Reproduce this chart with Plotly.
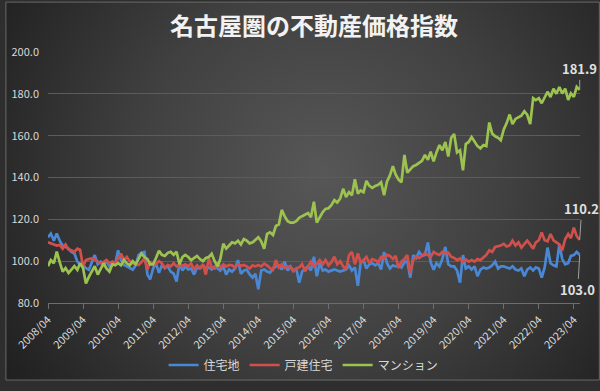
import base64
import pandas as pd
import plotly.graph_objects as go

# ---------------- data (monthly, 2008/04 .. 2023/06) ----------------
start_month = "2008-04-01"
n_months = 183

residential_land = [  # 住宅地
    111.4, 113.2, 109.8, 113.2, 109.8, 107.5, 106.8, 106.0, 104.4, 103.7, 99.8, 98.2,
    98.2, 96.7, 95.9, 99.0, 102.9, 98.5, 99.8, 98.2, 100.0, 97.5, 99.0, 98.5,
    105.2, 100.5, 98.2, 97.5, 96.5, 95.9, 98.0, 102.9, 104.0, 104.4, 93.6, 91.3,
    96.5, 99.0, 94.4, 98.0, 96.7, 97.5, 95.0, 94.0, 90.3, 99.0, 95.5, 97.5,
    96.0, 96.5, 93.6, 97.0, 96.5, 98.0, 96.5, 97.0, 96.0, 97.5, 96.5, 95.5,
    97.5, 93.6, 96.0, 95.0, 96.5, 100.5, 94.0, 95.5, 96.0, 93.6, 92.1, 94.0,
    86.6, 95.5, 96.0, 95.0, 94.5, 96.5, 97.5, 98.0, 96.0, 99.8, 95.5, 97.5,
    95.5, 96.5, 89.7, 95.0, 96.5, 97.5, 95.5, 102.1, 92.8, 99.0, 95.5, 96.0,
    95.0, 95.5, 96.0, 95.5, 95.0, 95.5, 96.0, 98.0, 95.5, 97.0, 88.2, 99.0,
    100.5, 96.5, 98.5, 99.0, 98.0, 99.0, 96.0, 104.4, 99.0, 96.5, 98.0, 97.5,
    98.0, 97.0, 99.5, 100.0, 92.1, 102.9, 101.5, 104.4, 102.5, 103.0, 109.0, 99.5,
    95.9, 99.0, 97.5, 101.0, 106.8, 98.5, 97.5, 97.5, 95.5, 89.7, 102.9, 96.5,
    97.5, 96.0, 97.5, 92.8, 96.0, 97.0, 96.5, 97.0, 98.0, 99.8, 96.5, 97.5,
    97.5, 97.0, 96.5, 97.5, 96.0, 95.5, 96.5, 92.8, 96.0, 97.0, 95.5, 97.0,
    96.5, 92.1, 97.0, 106.5, 99.0, 98.0, 97.5, 108.0, 101.0, 98.5, 99.0, 102.5,
    102.9, 104.4, 103.0,
]

detached_house = [  # 戸建住宅
    109.0, 108.5, 108.3, 107.5, 107.8, 106.0, 108.0, 105.5, 105.2, 104.4, 106.0, 105.5,
    97.5, 100.5, 101.0, 101.3, 100.8, 100.0, 99.0, 99.5, 100.5, 99.0, 99.8, 99.0,
    101.3, 103.6, 100.5, 102.0, 100.0, 99.0, 98.5, 98.2, 99.5, 101.3, 95.9, 99.8,
    98.2, 98.8, 100.0, 99.0, 96.7, 98.2, 97.5, 99.0, 97.5, 98.3, 97.8, 98.5,
    97.5, 99.0, 95.9, 98.0, 96.7, 98.5, 93.6, 101.3, 97.0, 96.5, 99.0, 97.0,
    98.5, 97.5, 98.2, 98.0, 97.0, 98.5, 97.8, 98.2, 97.5, 96.5, 98.0, 97.5,
    98.2, 97.5, 98.8, 98.0, 96.7, 95.9, 100.5, 97.0, 98.5, 96.7, 97.5, 97.0,
    95.2, 96.5, 97.0, 98.5, 95.2, 97.8, 99.8, 97.5, 98.5, 100.5, 98.5, 100.5,
    98.0, 99.5, 102.1, 98.5, 100.0, 97.5, 95.9, 102.9, 104.4, 98.5, 103.7, 99.5,
    100.5, 102.0, 99.0, 101.0, 100.5, 99.5, 102.0, 101.5, 103.0, 102.5, 101.0, 102.5,
    96.7, 99.8, 101.0, 102.9, 94.4, 100.5, 102.1, 101.5, 102.5, 103.7, 103.0, 102.0,
    104.4, 103.5, 103.0, 104.4, 103.7, 104.0, 102.1, 101.5, 100.5, 101.3, 99.8, 100.8,
    99.8, 100.5, 99.8, 101.0, 100.5, 102.0, 103.0, 105.2, 104.4, 106.8, 107.0, 107.5,
    108.3, 107.0, 107.5, 109.8, 107.5, 109.0, 106.5, 108.0, 109.8, 108.0, 106.0, 109.0,
    110.0, 113.7, 110.0, 109.5, 113.0, 110.0, 109.0, 108.0, 105.2, 110.6, 113.0, 111.0,
    116.0, 112.0, 110.2,
]

condominium = [  # マンション
    97.6, 100.5, 99.0, 104.6, 99.5, 95.0, 96.7, 94.4, 96.0, 97.6, 95.8, 99.0,
    96.7, 89.3, 92.5, 95.3, 97.6, 93.6, 96.0, 99.0, 96.5, 95.0, 98.5, 98.0,
    99.0, 98.0, 100.5, 99.0, 98.0, 100.0, 98.5, 101.0, 103.6, 102.0, 101.0, 98.5,
    98.5, 101.5, 105.0, 103.0, 102.5, 104.0, 104.5, 103.0, 104.5, 98.5, 102.0, 103.0,
    102.0, 100.5, 101.5, 102.5, 101.0, 100.0, 101.5, 102.0, 103.5, 100.0, 97.5, 101.0,
    108.3, 106.0, 107.5, 109.0, 108.5, 109.8, 108.0, 110.6, 109.8, 108.5, 109.0, 110.0,
    111.4, 109.5, 106.0, 113.0, 113.8, 112.5, 116.8, 117.6, 124.5, 121.4, 119.1, 118.4,
    118.4, 119.1, 120.7, 121.5, 122.2, 123.0, 121.0, 128.4, 118.4, 121.0, 123.5, 125.0,
    125.3, 126.8, 129.2, 128.0, 130.0, 134.6, 130.7, 133.0, 131.5, 139.2, 132.3, 133.8,
    133.0, 138.4, 136.0, 135.0, 136.0, 136.5, 137.7, 131.5, 138.0, 141.0, 145.4, 141.5,
    139.0, 137.7, 150.8, 142.3, 144.0, 145.4, 146.0, 146.9, 148.0, 150.8, 148.5, 152.4,
    147.7, 152.0, 155.5, 153.0, 157.0, 150.0, 159.0, 160.8, 152.0, 153.0, 143.4, 156.0,
    157.0, 159.3, 157.0, 155.0, 153.9, 155.5, 155.0, 166.3, 161.0, 159.7, 159.0, 157.8,
    163.0, 166.0, 170.1, 165.5, 168.0, 168.6, 169.5, 171.7, 170.0, 165.5, 177.9, 177.0,
    177.9, 175.5, 178.6, 181.0, 178.5, 182.5, 180.0, 183.3, 180.2, 182.5, 177.1, 180.2,
    178.5, 183.3, 181.9,
]

series_names = ["住宅地", "戸建住宅", "マンション"]
series_colors = ["#4A88D6", "#D2504C", "#9CC350"]
title_text = "名古屋圏の不動産価格指数"
y_tick_values = [80, 100, 120, 140, 160, 180, 200]

months = pd.date_range(start_month, periods=n_months, freq="MS")
tick_dates = [d for d in months if d.month == 4]
tick_labels = [d.strftime("%Y/%m") for d in tick_dates]

# ---------------- figure ----------------
W, H = 600, 391
ML, MR, MT, MB = 43, 20, 52, 80
PW, PH = W - ML - MR, H - MT - MB

FONT = "Noto Sans CJK JP, Noto Sans, sans-serif"

fig = go.Figure()
for name, vals, col in zip(series_names, [residential_land, detached_house, condominium], series_colors):
    fig.add_trace(go.Scatter(
        x=months, y=vals, name=name, mode="lines",
        line=dict(color=col, width=2.7), hoverinfo="skip",
    ))

# background radial gradient as an inline svg image
svg = f'''<svg xmlns="http://www.w3.org/2000/svg" width="{W}" height="{H}" viewBox="0 0 {W} {H}" preserveAspectRatio="none">
<defs><radialGradient id="g" gradientUnits="userSpaceOnUse" cx="320" cy="175" r="380">
<stop offset="0" stop-color="#575757"/><stop offset="0.5" stop-color="#404040"/><stop offset="1" stop-color="#202020"/>
</radialGradient></defs><rect width="{W}" height="{H}" fill="url(#g)"/></svg>'''
src = "data:image/svg+xml;base64," + base64.b64encode(svg.encode()).decode()
fig.add_layout_image(dict(
    source=src, xref="paper", yref="paper",
    x=-ML / PW, y=1 + MT / PH, sizex=W / PW, sizey=H / PH,
    xanchor="left", yanchor="top", sizing="stretch", layer="below",
))
# chart border
fig.add_shape(type="rect", xref="paper", yref="paper",
              x0=-ML / PW + 0.5 / PW, x1=1 + (MR - 0.5) / PW,
              y0=-(MB - 0.5) / PH, y1=1 + (MT - 0.5) / PH,
              line=dict(color="#6a6a6a", width=1), layer="above")

# end-value labels
last = n_months - 1
for vals, ax, ay in [(condominium, 0, -21), (detached_house, 2, -31), (residential_land, -2, 35)]:
    fig.add_annotation(
        x=months[last], y=vals[last], text=f"<b>{vals[last]:.1f}</b>",
        showarrow=True, arrowhead=0, arrowwidth=1, arrowcolor="#a0a0a0",
        ax=ax, ay=ay, font=dict(family=FONT, size=13, color="#e0e0e0"),
    )

fig.update_layout(
    width=W, height=H,
    margin=dict(l=ML, r=MR, t=MT, b=MB),
    paper_bgcolor="#2e2e2e", plot_bgcolor="rgba(0,0,0,0)",
    title=dict(text=title_text, x=0.5, xref="paper", xanchor="center",
               y=1 - 27 / H, yref="container", yanchor="middle",
               font=dict(family="Noto Sans CJK JP", size=24, color="#f2f2f2", weight="bold")),
    font=dict(family=FONT, color="#d9d9d9"),
    showlegend=True,
    legend=dict(orientation="h", x=(301 - ML) / PW, xanchor="center",
                y=-(375 - (MT + PH)) / PH, yanchor="middle",
                font=dict(family=FONT, size=12, color="#d9d9d9"),
                bgcolor="rgba(0,0,0,0)", itemwidth=30),
    hovermode=False,
)
fig.update_xaxes(
    range=[months[0], months[last] + pd.Timedelta(days=3)],
    tickvals=tick_dates, ticktext=tick_labels, tickangle=-45,
    tickfont=dict(family=FONT, size=11, color="#d9d9d9"),
    showgrid=False, showline=True, linecolor="#6e6e6e", linewidth=1,
    ticks="outside", ticklen=5, tickcolor="#6e6e6e", zeroline=False,
)
fig.update_yaxes(
    range=[80, 200], tickvals=y_tick_values,
    ticktext=[f"{v:.1f}" for v in y_tick_values],
    tickfont=dict(family=FONT, size=11, color="#d9d9d9"),
    showgrid=True, gridcolor="#5c5c5c", gridwidth=1, zeroline=False,
    showline=False, ticks="", ticklabelstandoff=8,
)

fig.write_html(
    "out.html",
    config={"displayModeBar": False, "staticPlot": True},
    post_script="document.body.style.margin='0';document.body.style.overflow='hidden';",
)
